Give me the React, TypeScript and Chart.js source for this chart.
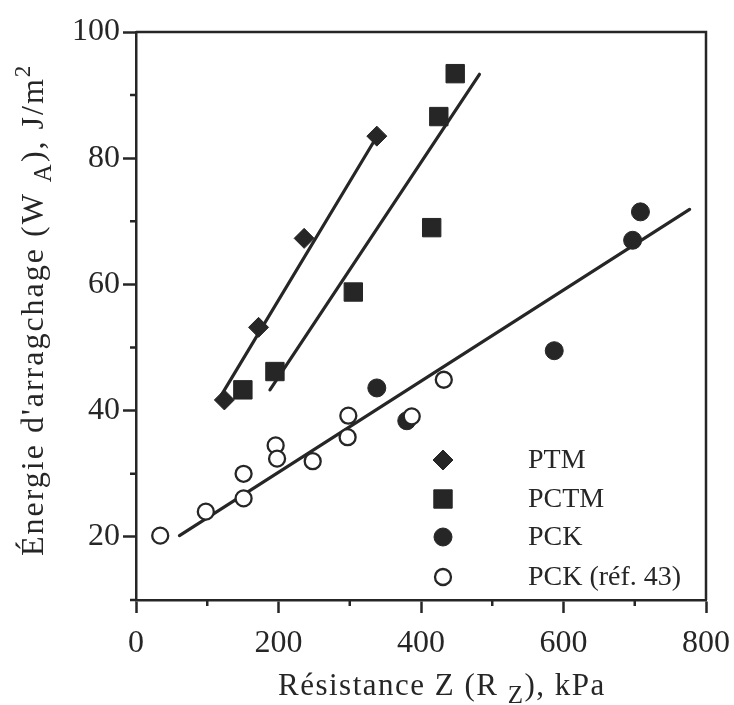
import React, { useEffect, useRef } from 'react';
import { Chart, registerables } from 'chart.js';
import { drawPoint } from 'chart.js/helpers';

Chart.register(...registerables);

// ---- data ----
const seriesLabels = ['PTM', 'PCTM', 'PCK', 'PCK (réf. 43)'];

const ptmX = [124, 172, 236, 338];
const ptmY = [41.7, 53.2, 67.3, 83.5];

const pctmX = [150, 195, 305, 415, 425, 448];
const pctmY = [43.3, 46.2, 58.8, 69.0, 86.6, 93.4];

const pckX = [338, 380, 587, 697, 708];
const pckY = [43.6, 38.4, 49.5, 67.0, 71.5];

const refX = [34, 98, 151, 151, 196, 198, 248, 297, 298, 387, 432];
const refY = [20.2, 24.0, 26.1, 30.0, 34.5, 32.4, 32.0, 35.8, 39.2, 39.1, 44.9];

const ptmFitX = [120, 340];
const ptmFitY = [42.5, 83.8];
const pctmFitX = [188, 482];
const pctmFitY = [43.3, 93.3];
const pckFitX = [61, 777];
const pckFitY = [20.2, 71.9];

const xTicks = [0, 200, 400, 600, 800];
const xMinorTicks = [100, 300, 500, 700];
const yTicks = [20, 40, 60, 80, 100];
const yMinorTicks = [10, 30, 50, 70, 90];

const xTitleParts = ['Résistance Z (R ', 'Z', '), kPa'];
const yTitleParts = ["Énergie d'arragchage (W ", 'A', '), J/m', '2'];

// ---- styles ----
const INK = '#262626';
const FONT = '"Liberation Serif", "DejaVu Serif", serif';

const pts = (xs: number[], ys: number[]) => xs.map((x, i) => ({ x, y: ys[i] }));

const markerStyles = [
  { pointStyle: 'rectRot', radius: 10, fill: INK, borderWidth: 1 },
  { pointStyle: 'rect', radius: 13, fill: INK, borderWidth: 1 },
  { pointStyle: 'circle', radius: 9, fill: INK, borderWidth: 1 },
  { pointStyle: 'circle', radius: 8, fill: '#ffffff', borderWidth: 2.3 },
];

function drawRich(ctx: CanvasRenderingContext2D, segs: { text: string; size: number; dy: number }[], x: number, y: number) {
  let cx = x;
  for (const s of segs) {
    ctx.font = `${s.size}px ${FONT}`;
    ctx.fillText(s.text, cx, y + s.dy);
    cx += ctx.measureText(s.text).width;
  }
}

const decorPlugin = {
  id: 'decor',
  afterDraw(chart: any) {
    const ctx: CanvasRenderingContext2D = chart.ctx;
    const { left, right, top, bottom } = chart.chartArea;
    const xs = chart.scales.x;
    const ys = chart.scales.y;
    ctx.save();
    ctx.strokeStyle = INK;
    ctx.lineWidth = 2.5;
    // top and right frame
    ctx.beginPath();
    ctx.moveTo(left, top);
    ctx.lineTo(right, top);
    ctx.lineTo(right, bottom);
    ctx.stroke();
    // minor ticks
    ctx.beginPath();
    xMinorTicks.forEach((v) => {
      const px = xs.getPixelForValue(v);
      ctx.moveTo(px, bottom);
      ctx.lineTo(px, bottom + 6);
    });
    yMinorTicks.forEach((v) => {
      const py = ys.getPixelForValue(v);
      ctx.moveTo(left, py);
      ctx.lineTo(left - 6, py);
    });
    ctx.stroke();

    // legend
    const mx = left + 307;
    const lx = left + 392;
    const rowY = [460, 499, 537, 577];
    ctx.textBaseline = 'middle';
    ctx.textAlign = 'left';
    seriesLabels.forEach((lab, i) => {
      const m = markerStyles[i];
      ctx.fillStyle = m.fill;
      ctx.strokeStyle = INK;
      ctx.lineWidth = m.borderWidth;
      drawPoint(ctx, { pointStyle: m.pointStyle as any, radius: m.radius, borderWidth: m.borderWidth, rotation: 0 } as any, mx, rowY[i]);
      ctx.fillStyle = INK;
      ctx.font = `28px ${FONT}`;
      ctx.fillText(lab, lx, rowY[i] + 1);
    });

    // axis titles
    ctx.fillStyle = INK;
    ctx.textBaseline = 'alphabetic';
    (ctx as any).letterSpacing = '1.5px';
    drawRich(ctx, [
      { text: xTitleParts[0], size: 31, dy: 0 },
      { text: xTitleParts[1], size: 25, dy: 8 },
      { text: xTitleParts[2], size: 31, dy: 0 },
    ], left + 142, 695);

    ctx.save();
    ctx.translate(43, 556);
    ctx.rotate(-Math.PI / 2);
    (ctx as any).letterSpacing = '2px';
    drawRich(ctx, [
      { text: yTitleParts[0], size: 32, dy: 0 },
      { text: yTitleParts[1], size: 25, dy: 8 },
      { text: yTitleParts[2], size: 32, dy: 0 },
      { text: yTitleParts[3], size: 23, dy: -13 },
    ], 0, 0);
    ctx.restore();
    (ctx as any).letterSpacing = '0px';
    ctx.restore();
  },
};

export default function App() {
  const ref = useRef<HTMLCanvasElement | null>(null);

  useEffect(() => {
    if (!ref.current) return;
    const lineDs = (xs: number[], ys: number[]) => ({
      label: '',
      data: pts(xs, ys),
      showLine: true,
      borderColor: INK,
      borderWidth: 3.2,
      borderCapStyle: 'round' as const,
      pointRadius: 0,
      pointHoverRadius: 0,
      fill: false,
      order: 10,
    });
    const markDs = (i: number, xs: number[], ys: number[], order: number) => ({
      label: seriesLabels[i],
      data: pts(xs, ys),
      showLine: false,
      pointStyle: markerStyles[i].pointStyle as any,
      pointRadius: markerStyles[i].radius,
      pointHoverRadius: markerStyles[i].radius,
      pointBackgroundColor: markerStyles[i].fill,
      pointBorderColor: INK,
      pointBorderWidth: markerStyles[i].borderWidth,
      order,
    });

    const chart = new Chart(ref.current, {
      type: 'scatter',
      data: {
        datasets: [
          lineDs(ptmFitX, ptmFitY),
          lineDs(pctmFitX, pctmFitY),
          lineDs(pckFitX, pckFitY),
          markDs(0, ptmX, ptmY, 3),
          markDs(1, pctmX, pctmY, 2),
          markDs(2, pckX, pckY, 5),
          markDs(3, refX, refY, 4),
        ] as any,
      },
      options: {
        responsive: false,
        animation: false,
        events: [],
        layout: { padding: { left: 0, top: 32, right: 28, bottom: 0 } },
        plugins: {
          legend: { display: false },
          tooltip: { enabled: false },
        },
        scales: {
          x: {
            type: 'linear',
            min: 0,
            max: 800,
            afterBuildTicks: (s: any) => { s.ticks = xTicks.map((v) => ({ value: v })); },
            afterFit: (s: any) => { s.height = 105; s.paddingLeft = 0; s.paddingRight = 0; },
            grid: { drawOnChartArea: false, drawTicks: true, tickLength: 13, tickWidth: 2.5, tickColor: INK, color: INK },
            border: { display: true, color: INK, width: 2.5 },
            ticks: { color: INK, font: { family: FONT, size: 32 }, padding: 11, maxRotation: 0, autoSkip: false },
          },
          y: {
            type: 'linear',
            min: 10,
            max: 100,
            afterBuildTicks: (s: any) => { s.ticks = yTicks.map((v) => ({ value: v })); },
            afterFit: (s: any) => { s.width = 136; s.paddingTop = 0; s.paddingBottom = 0; },
            grid: { drawOnChartArea: false, drawTicks: true, tickLength: 13, tickWidth: 2.5, tickColor: INK, color: INK },
            border: { display: true, color: INK, width: 2.5 },
            ticks: { color: INK, font: { family: FONT, size: 32 }, padding: 3, autoSkip: false },
          },
        },
      },
      plugins: [decorPlugin],
    });
    return () => chart.destroy();
  }, []);

  return (
    <div style={{ position: 'absolute', left: 0, top: 0, width: 734, height: 705, background: '#ffffff' }}>
      <canvas ref={ref} width={734} height={705} style={{ display: 'block', width: 734, height: 705 }} />
    </div>
  );
}
